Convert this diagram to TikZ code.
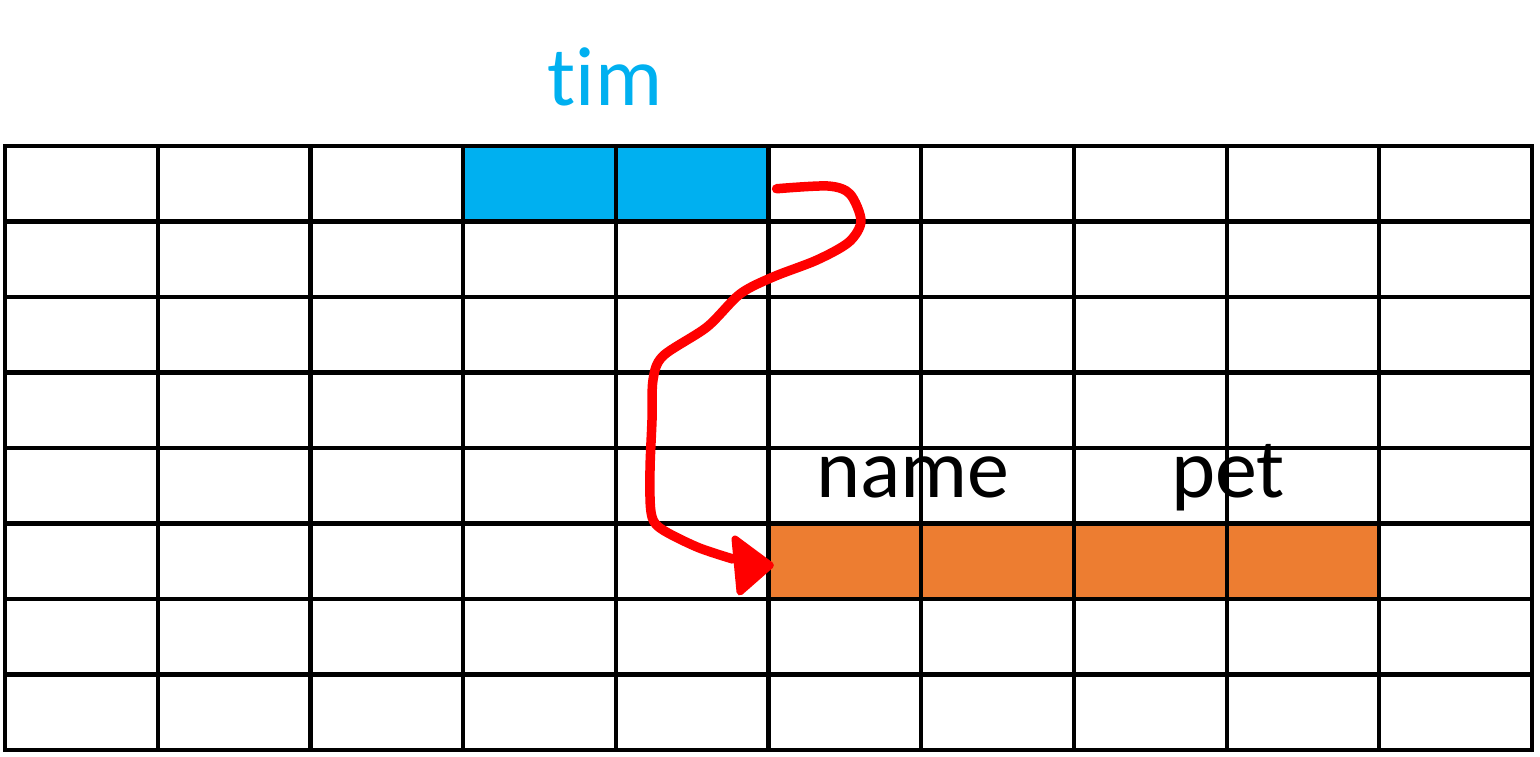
\documentclass[tikz,border=0pt]{standalone}
\usepackage{fontspec}
\setmainfont[Ligatures={NoCommon,NoRare}]{Carlito}
\definecolor{timblue}{HTML}{00B0F0}
\definecolor{petorange}{HTML}{ED7D31}
\definecolor{arrowred}{HTML}{FF0000}
\begin{document}
\begin{tikzpicture}[x=1pt,y=-1pt,
  cell/.style={draw=black,line width=4.2pt,inner sep=0pt,minimum width=152.7pt,minimum height=75.5pt,anchor=center},
  label/.style={font=\fontsize{84}{84}\selectfont,anchor=base,inner sep=0pt},
  scribble/.style={draw=arrowred,line width=9.5pt,line cap=round,line join=round}]
\useasboundingbox (0,0) rectangle (1540,756);
\foreach \r in {0,...,7}{
  \foreach \c in {0,...,9}{
    \node[cell] (c-\r-\c) at ({5+152.7*(\c+0.5)},{146+75.5*(\r+0.5)}) {};
  }
}
\foreach \c in {3,4}{\node[cell,fill=timblue] (b-\c) at (c-0-\c) {};}
\foreach \c in {5,...,8}{\node[cell,fill=petorange] (o-\c) at (c-5-\c) {};}
\node[label,text=timblue] (tim) at (605,105) {tim};
\node[label] (name) at (913,497) {name};
\node[label] (pet) at (1228,497) {pet};
\coordinate (s) at ([xshift=6pt,yshift=-5pt]b-4.east);
\coordinate (e) at ([xshift=-36pt,yshift=-1pt]o-5.west);
\draw[scribble] plot[smooth,tension=0.5] coordinates {(s) (828,186) (850,194) (861,221) (849,242) (817,260) (773,277) (740,294) (707,327) (663,356) (653,380) (652,420) (650,470) (651,512) (660,528) (697,547) (733,559)};
\filldraw[arrowred,line width=7pt,line join=round] (735,539) -- ([xshift=4pt,yshift=-4pt]o-5.west) -- (740,592) -- cycle;
\end{tikzpicture}
\end{document}
